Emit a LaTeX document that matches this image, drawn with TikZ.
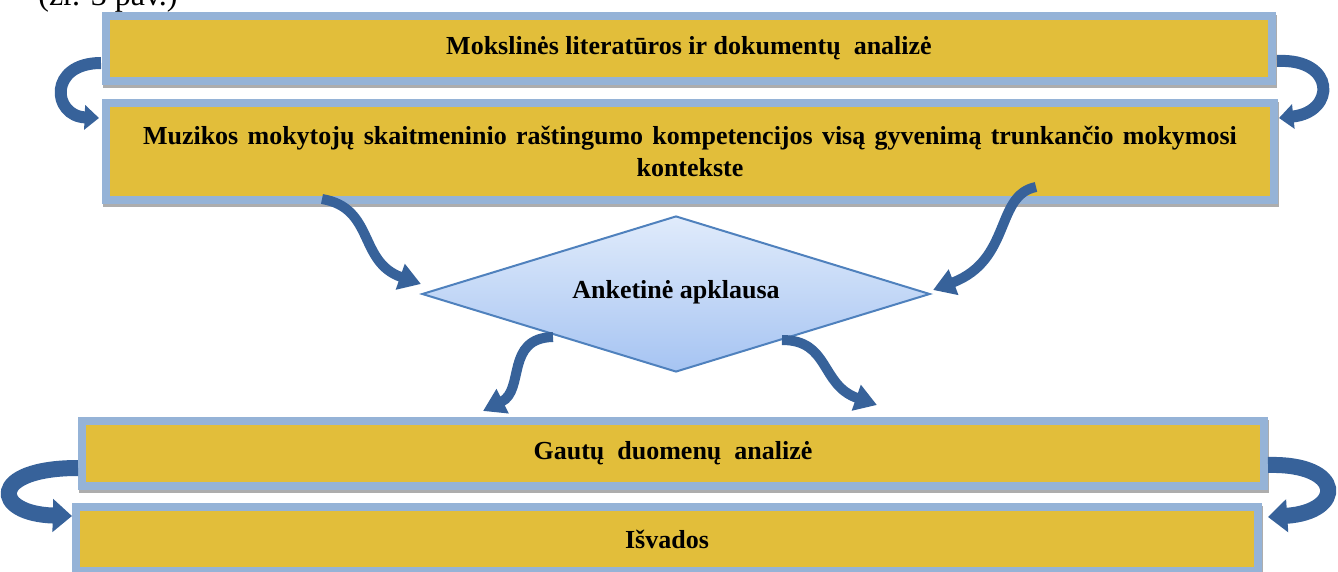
\documentclass[tikz,border=0pt]{standalone}
\usepackage{fontspec}
\setmainfont{Liberation Serif}
\usetikzlibrary{arrows.meta, shapes.geometric, shadows}
\definecolor{boxyellow}{HTML}{E2BE3A}
\definecolor{boxborder}{HTML}{95B3D7}
\definecolor{arrowblue}{HTML}{37629A}
\definecolor{diamondtop}{HTML}{E0EBFB}
\definecolor{diamondbottom}{HTML}{A6C4F2}
\definecolor{diamondborder}{HTML}{4F81BD}

\begin{document}
\begin{tikzpicture}[x=0.5pt,y=-0.5pt,
    stagebox/.style={draw=boxborder, fill=boxyellow, line width=4pt, inner sep=0pt,
      font=\bfseries\fontsize{13}{16}\selectfont,
      drop shadow={shadow xshift=0.5pt, shadow yshift=-1.5pt, fill=black!40,
        draw=black!40, line width=4pt, opacity=0.8}},
    flowarrow/.style={draw=arrowblue, line width=5pt,
      -{Triangle[length=11pt, width=13pt]}},
    turnarrow/.style={draw=arrowblue, line width=#1,
      -{Triangle[length=0pt 1.2, width=0pt 2]}}]
  \useasboundingbox (0,0) rectangle (1338,572);

  % text of the page above the figure
  \node[anchor=base west, inner sep=0pt, font=\fontsize{16}{18}\selectfont]
    (pageref) at (38,6) {(žr. 3 pav.)};

  % stages
  \node[stagebox, minimum width=583pt, minimum height=32.5pt]
    (lit) at (689,48.5) {Mokslinės literatūros ir dokumentų~ analizė};
  \node[stagebox, minimum width=584pt, minimum height=48.5pt, align=center]
    (comp) at (690,151.5)
    {\makebox[547pt][s]{Muzikos mokytojų skaitmeninio raštingumo kompetencijos visą gyvenimą trunkančio mokymosi}\\
     kontekste};
  \node[draw=diamondborder, line width=1pt, shape=diamond, aspect=3.26, inner sep=0pt,
        top color=diamondtop, bottom color=diamondbottom,
        minimum width=254pt, minimum height=78pt,
        font=\bfseries\fontsize{13}{16}\selectfont]
    (survey) at (676,294) {\raisebox{5pt}{Anketinė apklausa}};
  \node[stagebox, minimum width=591pt, minimum height=32.5pt]
    (data) at (673,453.5) {Gautų~ duomenų~ analizė};
  \node[stagebox, minimum width=591pt, minimum height=32pt]
    (concl) at (667,539) {Išvados};

  % arrow ends
  \coordinate (in1) at (322,199);
  \coordinate (in2) at (1036,187);
  \coordinate (out1) at (553,337);
  \coordinate (out2) at (782,340);
  \coordinate (tip1) at (421,284);
  \coordinate (tip2) at (933,290);
  \coordinate (tip3) at (483,411);
  \coordinate (tip4) at (877,405);

  \draw[flowarrow] (in1) .. controls (375,208) and (358,262) .. (tip1);
  \draw[flowarrow] (in2) .. controls (995,195) and (1012,260) .. (tip2);
  \draw[flowarrow] (out1) .. controls (505,338) and (525,390) .. (tip3);
  \draw[flowarrow] (out2) .. controls (830,340) and (820,385) .. (tip4);

  % turning arrows at the sides
  \coordinate (litL) at (101,63);
  \coordinate (compL) at (99,118);
  \coordinate (litR) at (1277,61);
  \coordinate (compR) at (1279,118);
  \coordinate (dataL) at (78,468);
  \coordinate (conclL) at (72,516);
  \coordinate (dataR) at (1268,465);
  \coordinate (conclR) at (1268,517);

  \draw[turnarrow=6pt] (litL) .. controls (48,63) and (52,116) .. (compL);
  \draw[turnarrow=6pt] (litR) .. controls (1336,58) and (1336,112) .. (compR);
  \draw[turnarrow=8pt] (dataL) .. controls (-12,468) and (-8,514) .. (conclL);
  \draw[turnarrow=8pt] (dataR) .. controls (1345,463) and (1345,512) .. (conclR);
\end{tikzpicture}
\end{document}
